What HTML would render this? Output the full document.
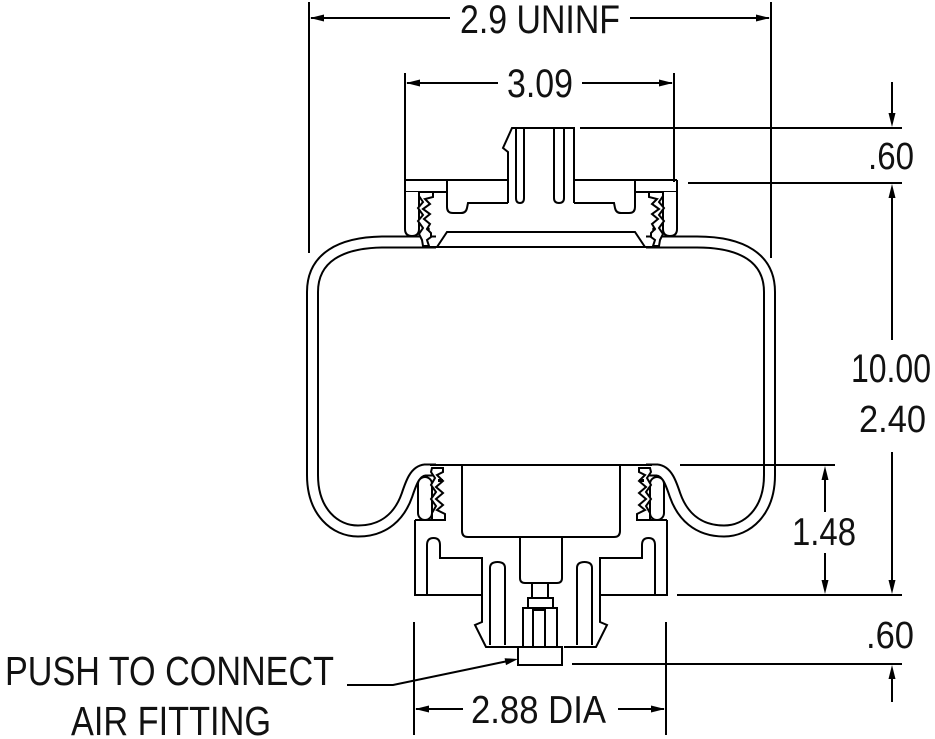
<!DOCTYPE html>
<html><head><meta charset="utf-8">
<style>
html,body{margin:0;padding:0;background:#fff;}
svg{display:block;}
text{font-family:"Liberation Sans",Arial,sans-serif;fill:#111;}
</style></head><body>
<svg width="935" height="739" viewBox="0 0 935 739" xmlns="http://www.w3.org/2000/svg">
<g stroke="#000" stroke-width="2" fill="none">
  <!-- extension lines (drawn first, under bellows) -->
  <line x1="309" y1="2" x2="309" y2="253"/>
  <line x1="771" y1="2" x2="771" y2="258"/>
  <line x1="405" y1="73" x2="405" y2="182"/>
  <line x1="674" y1="73" x2="674" y2="182"/>
</g>

<defs>
  <g id="half">
    <!-- bellows wall -->
    <path d="M436,242 L385,242 C340,242 312.5,258 312.5,292 L312.5,475 C312.5,512 335,531 358,531 C385,531 400,515 407,495 C411,483 415,471 425,470 L436,470" stroke="#000" stroke-width="13" fill="none"/>
    <path d="M437,242 L385,242 C340,242 312.5,258 312.5,292 L312.5,475 C312.5,512 335,531 358,531 C385,531 400,515 407,495 C411,483 415,471 425,470 L437,470" stroke="#fff" stroke-width="9" fill="none"/>
    <g stroke="#000" stroke-width="2" fill="none">
      <!-- upper plate -->
      <line x1="405" y1="180" x2="508" y2="180"/>
      <line x1="405" y1="180" x2="405" y2="192"/>
      <line x1="405" y1="192" x2="447" y2="192"/>
      <path d="M447,180 V207 Q447,213 453,213 H461 Q466,213 467,208 L468,203 H508"/>
      <path d="M405,192 V229 Q405,236 412,236 Q419,236 419,229 V192" fill="#fff"/>
      <polygon points="419,192 433,192 433,197 425,199 430,204 423,209 430,214 424,219 430,224 427,229 431,233 431,237 427,240 429,246 423,246 422,240 419,234 423,228 418,221 423,215 418,208 423,202 419,196" fill="#fff"/>
      <path d="M437,247 L447,232 H541"/>
      <line x1="424" y1="247" x2="541" y2="247"/>
      <!-- lower bead -->
      <rect x="418" y="477" width="14" height="43" rx="7" fill="#fff"/>
      <polygon points="432,468 443,468 443,472 437,475 443,481 436,487 443,493 436,499 443,505 437,510 445,514 445,520 432,520 432,513 436,506 431,499 436,492 431,485 435,478 431,472" fill="#fff"/>
      <line x1="430" y1="465" x2="541" y2="465"/>
      <path d="M462,465 V531 Q462,537 468,537 H541"/>
      <path d="M520,537 V578 Q520,583 525,583 H541"/>
      <!-- lower block -->
      <line x1="415" y1="520" x2="446" y2="520"/>
      <path d="M415,520 V595 H482"/>
      <path d="M427,595 V545 Q427,538 433.5,538 Q440,538 440,545 V558 H482 V622 L475,625 L485,645 L486,647 H518"/>
      <path d="M490,645 V568 Q490,562 497.5,562 Q505,562 505,568 V645"/>
    </g>
    <circle cx="428" cy="229" r="1.8" fill="#000"/>
    <rect x="438" y="479" width="5" height="3" fill="#000"/>
  </g>
</defs>
<use href="#half"/>
<use href="#half" transform="translate(1082,0) scale(-1,1)"/>

<g stroke="#000" stroke-width="2" fill="none">
  <!-- stem -->
  <path d="M508,203 V152 L503,148 L512,128 H574 V203"/>
  <path d="M516,128 V198 Q516,203 520,203 Q524,203 524,198 V128"/>
  <path d="M554,128 V198 Q554,203 559,203 Q564,203 564,198 V128"/>
  <!-- fitting -->
  <rect x="532" y="583" width="16" height="15"/>
  <rect x="528" y="598" width="25" height="10"/>
  <rect x="523" y="608" width="34" height="39"/>
  <path d="M533,647 V610 H545 V647"/>
  <rect x="518" y="647" width="44" height="18"/>

  <!-- dimension lines -->
  <line x1="311" y1="18" x2="450" y2="18"/>
  <line x1="630" y1="18" x2="769" y2="18"/>
  <line x1="407" y1="83" x2="498" y2="83"/>
  <line x1="582" y1="83" x2="672" y2="83"/>

  <line x1="580" y1="128" x2="902" y2="128"/>
  <line x1="688" y1="183" x2="902" y2="183"/>
  <line x1="892" y1="82" x2="892" y2="116"/>
  <line x1="892" y1="195" x2="892" y2="340"/>
  <line x1="892" y1="452" x2="892" y2="583"/>
  <line x1="680" y1="465" x2="835" y2="465"/>
  <line x1="677" y1="595" x2="902" y2="595"/>
  <line x1="825" y1="478" x2="825" y2="512"/>
  <line x1="825" y1="553" x2="825" y2="583"/>
  <line x1="572" y1="664" x2="902" y2="664"/>
  <line x1="892" y1="676" x2="892" y2="702"/>

  <line x1="414" y1="622" x2="414" y2="735"/>
  <line x1="666" y1="622" x2="666" y2="735"/>
  <line x1="416" y1="709" x2="463" y2="709"/>
  <line x1="618" y1="709" x2="664" y2="709"/>

  <path d="M347,685 H393 L508,661"/>
</g>

<g fill="#000">
  <polygon points="310,18 324,14.5 324,21.5"/>
  <polygon points="770,18 756,14.5 756,21.5"/>
  <polygon points="406,83 420,79.5 420,86.5"/>
  <polygon points="673,83 659,79.5 659,86.5"/>
  <polygon points="892,127 888.5,113 895.5,113"/>
  <polygon points="892,184 888.5,198 895.5,198"/>
  <polygon points="892,594 888.5,580 895.5,580"/>
  <polygon points="825,466 821.5,480 828.5,480"/>
  <polygon points="825,594 821.5,580 828.5,580"/>
  <polygon points="892,665 888.5,679 895.5,679"/>
  <polygon points="415,709 429,705.5 429,712.5"/>
  <polygon points="665,709 651,705.5 651,712.5"/>
  <polygon points="518,659 506,665.1 504.6,658.2"/>
</g>

<text x="460" y="33" font-size="40" textLength="160" lengthAdjust="spacingAndGlyphs">2.9 UNINF</text>
<text x="507" y="97" font-size="40" textLength="66" lengthAdjust="spacingAndGlyphs">3.09</text>
<text x="868" y="169" font-size="38" textLength="46" lengthAdjust="spacingAndGlyphs">.60</text>
<text x="851" y="382" font-size="40" textLength="80" lengthAdjust="spacingAndGlyphs">10.00</text>
<text x="859" y="432" font-size="38" textLength="67" lengthAdjust="spacingAndGlyphs">2.40</text>
<text x="792" y="545" font-size="39" textLength="64" lengthAdjust="spacingAndGlyphs">1.48</text>
<text x="866" y="648" font-size="38" textLength="48" lengthAdjust="spacingAndGlyphs">.60</text>
<text x="471" y="723" font-size="39" textLength="135" lengthAdjust="spacingAndGlyphs">2.88 DIA</text>
<text x="5" y="685" font-size="41" textLength="329" lengthAdjust="spacingAndGlyphs">PUSH TO CONNECT</text>
<text x="71" y="735" font-size="41" textLength="200" lengthAdjust="spacingAndGlyphs">AIR FITTING</text>
</svg>
</body></html>
